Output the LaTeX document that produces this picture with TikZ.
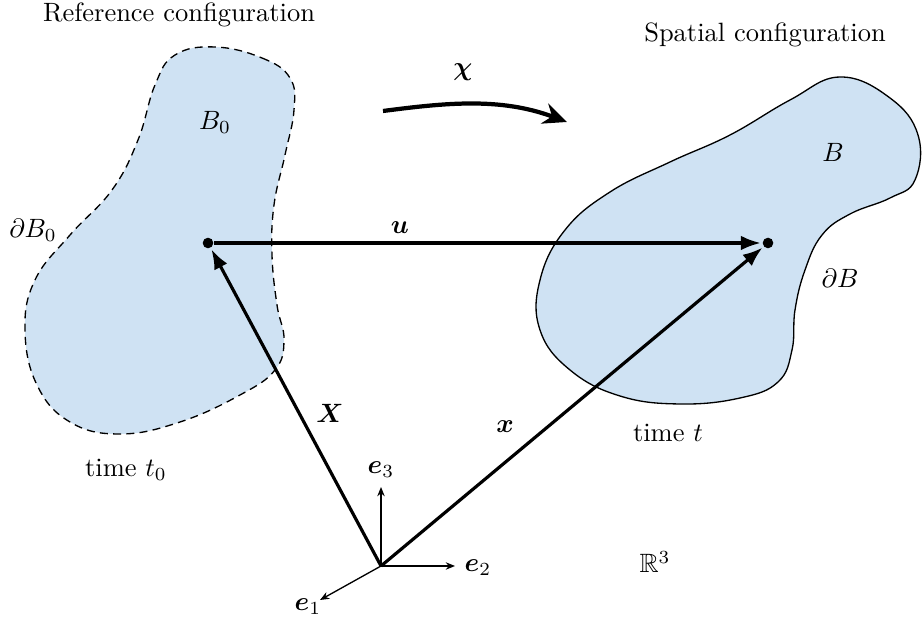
\documentclass[tikz,border=0pt]{standalone}
\usepackage{amsmath,amssymb}
\usetikzlibrary{arrows.meta}
\definecolor{fBody}{RGB}{207,226,243}

\begin{document}
\begin{tikzpicture}[x=0.3776pt,y=-0.3776pt,
  body/.style={fill=fBody,draw=black,line width=0.5pt},
  pt/.style={circle,fill=black,inner sep=0pt,minimum size=4pt},
  vec/.style={-{Latex[length=7.5pt,width=5.5pt]},line width=1.2pt,shorten >=0.5pt},
  basis/.style={-{Stealth[length=3.5pt,width=2.8pt]},line width=0.5pt},
  map/.style={-{Stealth[length=9pt,width=8pt,inset=3pt]},line width=1.6pt}]
\useasboundingbox (0,0) rectangle (922,625);
% reference body (dashed) and spatial body
\draw[body,dash pattern=on 3pt off 2pt] plot[smooth cycle,tension=0.7] coordinates {
  (215,47) (262,58) (290,78) (294,110) (285,155) (274,205) (272,255) (277,305)
  (284,340) (275,370) (240,395) (180,422) (120,434) (70,422) (37,385) (25,330)
  (35,280) (70,235) (112,190) (138,140) (155,85) (175,55)};
\draw[body] plot[smooth cycle,tension=0.7] coordinates {
  (840,77) (890,98) (918,135) (915,180) (890,198) (850,214) (822,235) (805,270)
  (795,310) (792,350) (778,382) (740,398) (680,404) (620,396) (570,370) (540,330)
  (540,280) (565,230) (610,192) (670,162) (730,135) (790,100)};
% texts
\node (ref) at (179,15) {Reference configuration};
\node (spat) at (765,35) {Spatial configuration};
\node (B0) at (215,122) {$B_0$};
\node (dB0) at (33,230) {$\partial B_0$};
\node (B) at (833,152) {$B$};
\node (dB) at (840,278) {$\partial B$};
\node (t0) at (126,470) {time $t_0$};
\node (t) at (668,433) {time $t$};
\node (R3) at (655,562) {$\mathbb{R}^3$};
% points and basis
\node[pt] (P0) at (208,243) {};
\node[pt] (P) at (768,243) {};
\coordinate (O) at (381,566);
\coordinate (a1) at (320,600);
\coordinate (a2) at (455,566);
\coordinate (a3) at (381,487);
\foreach \a in {a1,a2,a3} \draw[basis] (O) -- (\a);
\node (e1) at (308,607) {$\boldsymbol{e}_1$};
\node (e2) at (478,568) {$\boldsymbol{e}_2$};
\node (e3) at (381,470) {$\boldsymbol{e}_3$};
% position and displacement vectors
\draw[vec] (O) -- (P0);
\draw[vec] (O) -- (P);
\draw[vec] (P0) -- (P);
\node (lX) at (330,413) {$\boldsymbol{X}$};
\node (lx) at (505,427) {$\boldsymbol{x}$};
\node (lu) at (400,228) {$\boldsymbol{u}$};
% motion
\coordinate (m0) at (383,111);
\coordinate (m1) at (567,122);
\draw[map] (m0) .. controls (445,103) and (500,97) .. (m1);
\node (chi) at (463,72) {$\boldsymbol{\chi}$};
\end{tikzpicture}
\end{document}
